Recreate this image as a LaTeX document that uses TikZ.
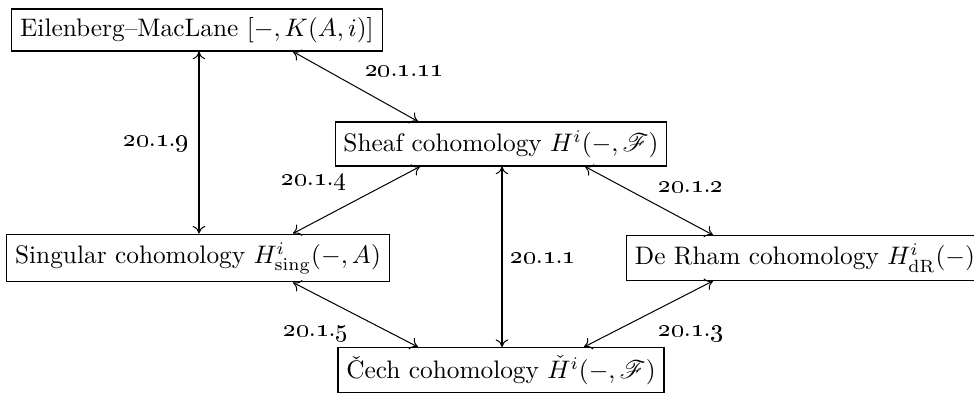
\documentclass[tikz,border=0pt]{standalone}
\usepackage{amsmath}
\usepackage{mathrsfs}
\usetikzlibrary{arrows.meta}
\newcommand{\lbl}[3]{\oldstylenums{#1}.\oldstylenums{#2}.\oldstylenums{#3}}
\begin{document}
\begin{tikzpicture}[x=0.395pt,y=-0.395pt,
  box/.style={draw,line width=0.45pt,inner sep=3.3pt,font=\normalsize},
  lab/.style={inner sep=1pt,font=\normalsize},
  arr/.style={<->,line width=0.4pt,>={To[length=3pt,width=5pt]}}]
\clip (0,0) rectangle (974,394);
\node[box] (em) at (197,30) {Eilenberg--MacLane $[-,K(A,i)]$};
\node[box] (sheaf) at (501,144) {Sheaf cohomology $H^i(-,\mathscr{F})$};
\node[box] (sing) at (198,258) {Singular cohomology $H^i_{\mathrm{sing}}(-,A)$};
\node[box,anchor=west] (dr) at (626,258) {De Rham cohomology $H^i_{\mathrm{dR}}(-)$};
\node[box,anchor=north] (cech) at (501,347) {\v{C}ech cohomology $\check{H}^i(-,\mathscr{F})$};
\draw[arr] (em.south -| 199,0) -- (sing.north -| 199,0);
\draw[arr] (em.south -| 293,0) -- (sheaf.north -| 418,0);
\draw[arr] (sheaf.south -| 420,0) -- (sing.north -| 293,0);
\draw[arr] (sheaf.south -| 502,0) -- (cech.north -| 502,0);
\draw[arr] (sheaf.south -| 585,0) -- (dr.north -| 713,0);
\draw[arr] (sing.south -| 293,0) -- (cech.north -| 418,0);
\draw[arr] (dr.south -| 713,0) -- (cech.north -| 584,0);
\node[lab] (l9) at (156,143) {\lbl{20}{1}{9}};
\node[lab] (l11) at (404,71) {\lbl{20}{1}{11}};
\node[lab] (l4) at (314,182) {\lbl{20}{1}{4}};
\node[lab] (l2) at (691,187) {\lbl{20}{1}{2}};
\node[lab] (l1) at (543,258) {\lbl{20}{1}{1}};
\node[lab] (l5) at (316,333) {\lbl{20}{1}{5}};
\node[lab] (l3) at (691,333) {\lbl{20}{1}{3}};
\end{tikzpicture}
\end{document}
